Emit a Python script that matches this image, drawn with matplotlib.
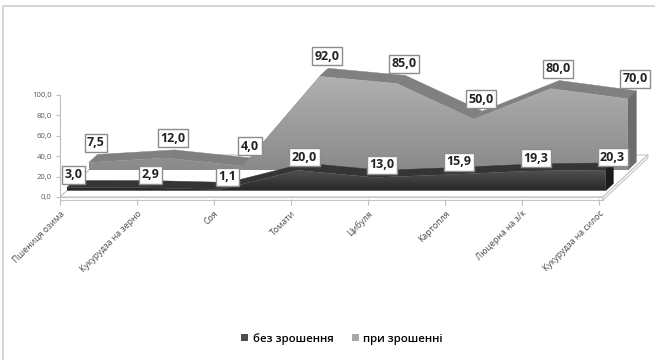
import numpy as np
import matplotlib
matplotlib.use("Agg")
import matplotlib.pyplot as plt
from matplotlib.patches import Polygon, Rectangle, Patch
from matplotlib.colors import LinearSegmentedColormap

plt.rcParams["font.family"] = ["Open Sans", "DejaVu Sans"]

categories = ["Пшениця озима", "Кукурудза на зерно", "Соя", "Томати",
              "Цибуля", "Картопля", "Люцерна на з/к", "Кукурудза на силос"]
no_irrigation = [3.0, 2.9, 1.1, 20.0, 13.0, 15.9, 19.3, 20.3]
with_irrigation = [7.5, 12.0, 4.0, 92.0, 85.0, 50.0, 80.0, 70.0]
series_names = ["без зрошення", "при зрошенні"]
y_ticks = [0, 20, 40, 60, 80, 100]

W, H, DPI = 655, 360, 100
PX_X = 77.0          # pixels per category step
PX_Y = 1.02          # pixels per value unit
DX = 45.0 / PX_X     # full floor depth, in category units
DY = 42.0 / PX_Y     # full floor depth, in value units
X_LIM = (0.0, 7.7)
Y_LIM = (-8.0, 128.0)
ORIGIN = (60, 197)   # pixel position of (first category, 0)


def proj(x, v, f):
    """Oblique projection of a point at depth fraction f."""
    return (x + f * DX, v + f * DY)


fig = plt.figure(figsize=(W / DPI, H / DPI), dpi=DPI)
ax_w = (X_LIM[1] - X_LIM[0]) * PX_X
ax_h = (Y_LIM[1] - Y_LIM[0]) * PX_Y
ax_bottom_px = H - (ORIGIN[1] - Y_LIM[0] * PX_Y)
ax = fig.add_axes([ORIGIN[0] / W, ax_bottom_px / H, ax_w / W, ax_h / H])
ax.set_xlim(*X_LIM)
ax.set_ylim(*Y_LIM)
ax.patch.set_alpha(0)

# outer chart frame
fig.patches.append(Rectangle((3 / W, -0.1), 1.2, 1 - 6 / H + 0.1,
                             transform=fig.transFigure, fill=False,
                             ec="#cfcfcf", lw=1.2))

n = len(categories)
x_end = n - 1 + 0.05

# floor with a thin front edge
floor = [proj(0, 0, 0), proj(x_end, 0, 0), proj(x_end, 0, 1), proj(0, 0, 1)]
ax.add_patch(Polygon(floor, closed=True, fc="white", ec="#c4c4c4", lw=0.8, zorder=1))
edge = [proj(0, -3, 0), proj(x_end, -3, 0), proj(x_end, 0, 0), proj(0, 0, 0)]
ax.add_patch(Polygon(edge, closed=True, fc="white", ec="#c4c4c4", lw=0.8, zorder=1))
side = [proj(x_end, -3, 0), proj(x_end, -3, 1), proj(x_end, 0, 1), proj(x_end, 0, 0)]
ax.add_patch(Polygon(side, closed=True, fc="white", ec="#c4c4c4", lw=0.8, zorder=1))


def gradient_fill(poly_pts, c_top, c_bottom, v_top, v_bottom, z):
    poly = Polygon(poly_pts, closed=True, fc="none", ec="none", zorder=z)
    ax.add_patch(poly)
    cmap = LinearSegmentedColormap.from_list("g", [c_bottom, c_top])
    xs = [p[0] for p in poly_pts]
    grad = np.linspace(0, 1, 256).reshape(-1, 1)
    im = ax.imshow(grad, cmap=cmap, origin="lower", aspect="auto",
                   extent=(min(xs), max(xs), v_bottom, v_top), zorder=z,
                   interpolation="bilinear")
    im.set_clip_path(poly)
    ax.set_xlim(*X_LIM)
    ax.set_ylim(*Y_LIM)


def draw_area(vals, ff, fb, c_top, c_bottom, top_color, side_color, z):
    # top strips
    for i in range(n - 1):
        quad = [proj(i, vals[i], ff), proj(i + 1, vals[i + 1], ff),
                proj(i + 1, vals[i + 1], fb), proj(i, vals[i], fb)]
        ax.add_patch(Polygon(quad, closed=True, fc=top_color, ec=top_color,
                             lw=0.3, zorder=z))
    # right side wall
    wall = [proj(n - 1, 0, ff), proj(n - 1, vals[-1], ff),
            proj(n - 1, vals[-1], fb), proj(n - 1, 0, fb)]
    ax.add_patch(Polygon(wall, closed=True, fc=side_color, ec=side_color,
                         lw=0.3, zorder=z))
    # front face
    face = [proj(0, 0, ff)] + [proj(i, v, ff) for i, v in enumerate(vals)] + [proj(n - 1, 0, ff)]
    base = ff * DY
    gradient_fill(face, c_top, c_bottom, base + max(vals), base, z + 0.5)


draw_area(with_irrigation, 0.64, 0.83, "#b0b0b0", "#8a8a8a", "#808080", "#6c6c6c", 2)
draw_area(no_irrigation, 0.15, 0.32, "#505050", "#262626", "#353535", "#1c1c1c", 4)

box = dict(boxstyle="square,pad=0.2", fc="white", ec="#8c8c8c", lw=1.0)


def fmt(v):
    return f"{v:.1f}".replace(".", ",")


for i, v in enumerate(with_irrigation):
    ax.annotate(fmt(v), xy=proj(i, v, 0.83), xytext=(-1, 8.5), textcoords="offset points",
                ha="center", va="center", fontsize=9, fontweight="bold",
                color="#222222", bbox=box, zorder=10, annotation_clip=False)
for i, v in enumerate(no_irrigation):
    ax.annotate(fmt(v), xy=proj(i, v, 0.24), xytext=(2, 6.5), textcoords="offset points",
                ha="center", va="center", fontsize=9, fontweight="bold",
                color="#222222", bbox=box, zorder=10, annotation_clip=False)

# value axis
ax.set_yticks(y_ticks)
ax.set_yticklabels([fmt(t) for t in y_ticks])
ax.spines["left"].set_bounds(0, 100)
ax.spines["left"].set_color("#bfbfbf")
for s in ("top", "right"):
    ax.spines[s].set_visible(False)
ax.spines["bottom"].set_position(("data", -2))
ax.spines["bottom"].set_color("none")
ax.tick_params(axis="y", length=3, color="#bfbfbf", labelsize=5.6,
               labelcolor="#595959", pad=3)

# category axis
ax.set_xticks(range(n))
ax.set_xticklabels(categories, rotation=45, ha="right", va="top",
                   rotation_mode="anchor")
ax.tick_params(axis="x", length=4, color="#bfbfbf", labelsize=6.3,
               labelcolor="#4a4a4a", pad=3)

handles = [Patch(fc="#4d4d4d", ec="none"), Patch(fc="#a8a8a8", ec="none")]
fig.legend(handles, series_names, loc="center", bbox_to_anchor=(342 / W, 1 - 339 / H),
           ncol=2, frameon=False, handlelength=0.6, handleheight=0.6,
           handletextpad=0.4, columnspacing=1.6, prop={"weight": "semibold", "size": 8.2})

fig.savefig("out.png", dpi=DPI)
